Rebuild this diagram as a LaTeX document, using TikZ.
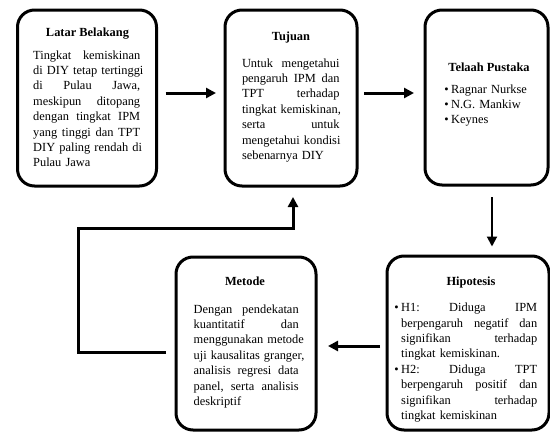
\documentclass[tikz,border=0pt]{standalone}
\usepackage{fontspec}
\setmainfont{Liberation Serif}
\usetikzlibrary{arrows.meta}
\newcommand\W{100pt}
\newcommand\jl[1]{\leavevmode\hbox to \W{#1}}
\newcommand\gap{\hfill\ }
\newcommand\bul{\leavevmode\llap{\textbullet\hspace{2.5pt}}}
\begin{document}
\begin{tikzpicture}[x=1pt,y=-1pt,
  box/.style={draw, line width=3pt, rounded corners=17pt, inner sep=0pt},
  ttl/.style={font=\fontsize{12.4}{15.4}\selectfont\bfseries, inner sep=0pt, anchor=base},
  body/.style={font=\fontsize{12.4}{15.4}\selectfont, inner sep=0pt, anchor=north west, align=left},
  arr/.style={line width=3pt, -{Triangle[length=10pt,width=10pt]}},
  thinarr/.style={line width=2pt, -{Triangle[length=10pt,width=10pt]}},
]
\useasboundingbox (0,0) rectangle (550,432);

% boxes
\node[box, minimum width=139pt, minimum height=176pt] (lb) at (87,98) {};
\node[box, minimum width=132pt, minimum height=176pt] (tj) at (291,98) {};
\node[box, minimum width=123pt, minimum height=175pt] (tp) at (486.5,97.5) {};
\node[box, minimum width=162pt, minimum height=174pt] (hp) at (468,343) {};
\node[box, minimum width=140pt, minimum height=173pt] (mt) at (246,343.5) {};

% titles
\node[ttl] (lbt) at (87.5,36.5) {Latar Belakang};
\node[ttl] (tjt) at (291,40.5) {Tujuan};
\node[ttl] (tpt) at (489,71.5) {Telaah Pustaka};
\node[ttl] (hpt) at (471,285) {Hipotesis};
\node[ttl] (mtt) at (245,285) {Metode};

% bodies
\renewcommand\W{107pt}
\node[body, text width=107pt] (lbb) at (33,48.2) {\strut\jl{Tingkat\gap kemiskinan}\\
\jl{di\gap DIY\gap tetap\gap tertinggi}\\
\jl{di\gap Pulau\gap Jawa,}\\
\jl{meskipun\gap ditopang}\\
\jl{dengan\gap tingkat\gap IPM}\\
\jl{yang\gap tinggi\gap dan\gap TPT}\\
\jl{DIY\gap paling\gap rendah\gap di}\\
Pulau Jawa};

\renewcommand\W{97.5pt}
\node[body, text width=97.5pt] (tjb) at (241.8,56.2) {\strut\jl{Untuk\gap mengetahui}\\
\jl{pengaruh\gap IPM\gap dan}\\
\jl{TPT\gap terhadap}\\
\jl{tingkat\gap kemiskinan,}\\
\jl{serta\gap untuk}\\
\jl{mengetahui\gap kondisi}\\
sebenarnya DIY};

\node[body, text width=90pt] (tpb) at (451,82.2) {\strut\bul Ragnar Nurkse\\
\bul N.G. Mankiw\\
\bul Keynes};

\renewcommand\W{136pt}
\node[body, text width=136pt] (hpb) at (401,300.7) {\strut\bul\jl{H1:\gap Diduga\gap IPM}\\
\jl{berpengaruh\gap negatif\gap dan}\\
\jl{signifikan\gap terhadap}\\
tingkat kemiskinan.\\
\bul\jl{H2:\gap Diduga\gap TPT}\\
\jl{berpengaruh\gap positif\gap dan}\\
\jl{signifikan\gap terhadap}\\
tingkat kemiskinan};

\renewcommand\W{105pt}
\node[body, text width=105pt] (mtb) at (193.5,302.2) {\strut\jl{Dengan\gap pendekatan}\\
\jl{kuantitatif\gap dan}\\
\jl{menggunakan\gap metode}\\
\jl{uji\gap kausalitas\gap granger,}\\
\jl{analisis\gap regresi\gap data}\\
\jl{panel,\gap serta\gap analisis}\\
deskriptif};

% connectors
\draw[arr, shorten <=7.5pt, shorten >=7.5pt] ([yshift=5pt]lb.east) -- ([yshift=5pt]lb.east -| tj.west);
\draw[arr, shorten <=5.5pt, shorten >=9.5pt] ([yshift=5pt]tj.east) -- ([yshift=5pt]tj.east -| tp.west);
\draw[thinarr, shorten <=10.5pt, shorten >=8pt] ([xshift=5.5pt]tp.south) -- ([xshift=5.5pt]tp.south |- hp.north);
\draw[arr, shorten <=5.5pt, shorten >=10.5pt] ([yshift=-3pt]hp.west) -- ([yshift=-3pt]hp.west -| mt.east);
\coordinate (lc) at (78,228);
\draw[arr, shorten <=8.5pt, shorten >=9.5pt] ([yshift=-8.5pt]mt.west) -| (lc) -| ([xshift=2pt]tj.south);
\end{tikzpicture}
\end{document}
